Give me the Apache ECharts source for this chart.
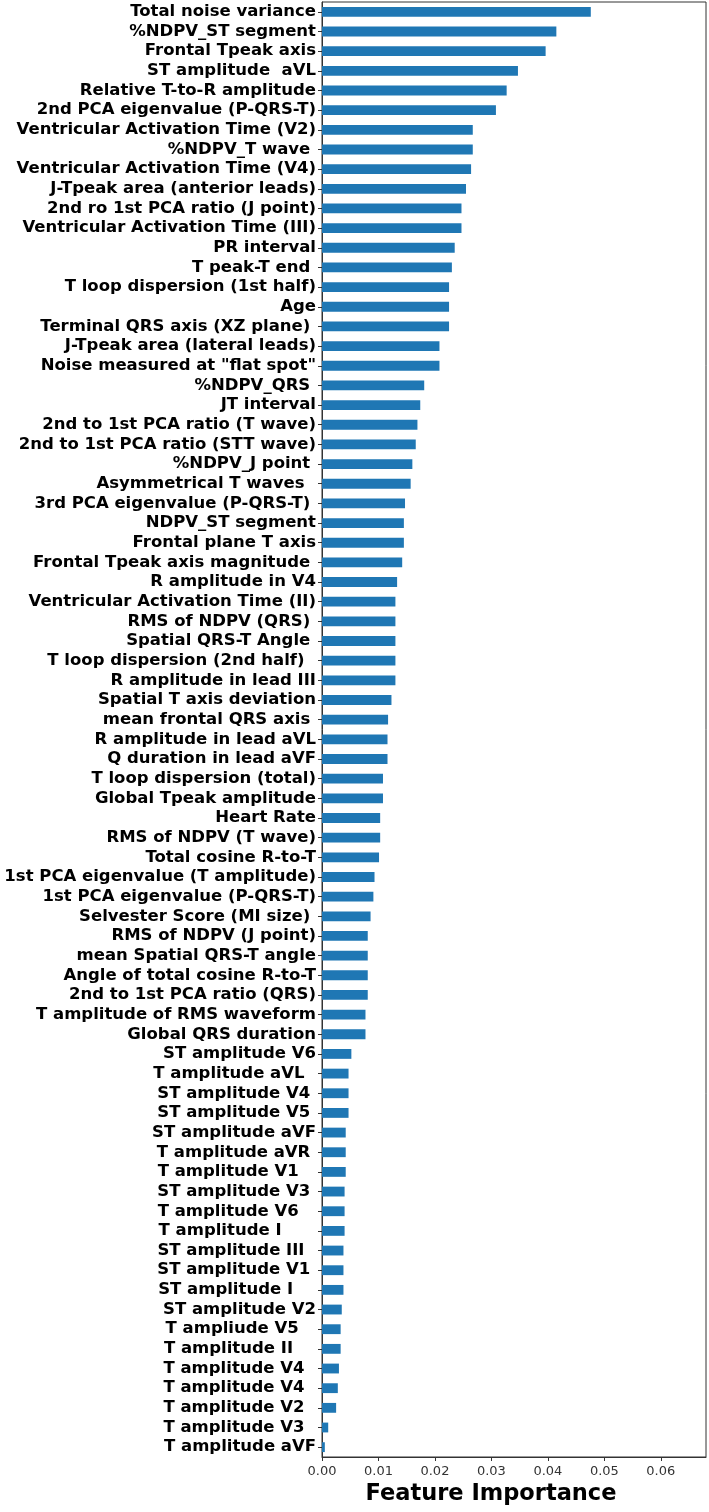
<!DOCTYPE html>
<html>
<head>
<meta charset="utf-8">
<script src="https://cdn.jsdelivr.net/npm/echarts@6/dist/echarts.min.js"></script>
<style>
html,body{margin:0;padding:0;background:#fff;}
#chart{width:709px;height:1512px;}
</style>
</head>
<body>
<div id="chart"></div>
<script>
const features = [
  "Total noise variance",
  "%NDPV_ST segment",
  "Frontal Tpeak axis",
  "ST amplitude  aVL",
  "Relative T-to-R amplitude",
  "2nd PCA eigenvalue (P-QRS-T)",
  "Ventricular Activation Time (V2)",
  "%NDPV_T wave ",
  "Ventricular Activation Time (V4)",
  "J-Tpeak area (anterior leads)",
  "2nd ro 1st PCA ratio (J point)",
  "Ventricular Activation Time (III)",
  "PR interval",
  "T peak-T end ",
  "T loop dispersion (1st half)",
  "Age",
  "Terminal QRS axis (XZ plane) ",
  "J-Tpeak area (lateral leads)",
  "Noise measured at \"flat spot\"",
  "%NDPV_QRS ",
  "JT interval",
  "2nd to 1st PCA ratio (T wave)",
  "2nd to 1st PCA ratio (STT wave)",
  "%NDPV_J point ",
  "Asymmetrical T waves  ",
  "3rd PCA eigenvalue (P-QRS-T) ",
  "NDPV_ST segment",
  "Frontal plane T axis",
  "Frontal Tpeak axis magnitude ",
  "R amplitude in V4",
  "Ventricular Activation Time (II)",
  "RMS of NDPV (QRS) ",
  "Spatial QRS-T Angle ",
  "T loop dispersion (2nd half)  ",
  "R amplitude in lead III",
  "Spatial T axis deviation",
  "mean frontal QRS axis ",
  "R amplitude in lead aVL",
  "Q duration in lead aVF",
  "T loop dispersion (total)",
  "Global Tpeak amplitude",
  "Heart Rate",
  "RMS of NDPV (T wave)",
  "Total cosine R-to-T",
  "1st PCA eigenvalue (T amplitude)",
  "1st PCA eigenvalue (P-QRS-T)",
  "Selvester Score (MI size) ",
  "RMS of NDPV (J point)",
  "mean Spatial QRS-T angle",
  "Angle of total cosine R-to-T",
  "2nd to 1st PCA ratio (QRS)",
  "T amplitude of RMS waveform",
  "Global QRS duration",
  "ST amplitude V6",
  "T amplitude aVL  ",
  "ST amplitude V4 ",
  "ST amplitude V5 ",
  "ST amplitude aVF",
  "T amplitude aVR ",
  "T amplitude V1   ",
  "ST amplitude V3 ",
  "T amplitude V6   ",
  "T amplitude I      ",
  "ST amplitude III  ",
  "ST amplitude V1 ",
  "ST amplitude I    ",
  "ST amplitude V2",
  "T ampliude V5   ",
  "T amplitude II    ",
  "T amplitude V4  ",
  "T amplitude V4  ",
  "T amplitude V2  ",
  "T amplitude V3  ",
  "T amplitude aVF"
];

const importance = [
  0.0476, 0.0415, 0.0396, 0.0347, 0.0327, 0.0308, 0.0267, 0.0267, 0.0264, 0.0255,
  0.0247, 0.0247, 0.0235, 0.0230, 0.0225, 0.0225, 0.0225, 0.0208, 0.0208, 0.0181,
  0.0174, 0.0169, 0.0166, 0.0160, 0.0157, 0.0147, 0.0145, 0.0145, 0.0142, 0.0133,
  0.0130, 0.0130, 0.0130, 0.0130, 0.0130, 0.0123, 0.0117, 0.0116, 0.0116, 0.0108,
  0.0108, 0.0103, 0.0103, 0.0101, 0.0093, 0.0091, 0.0086, 0.0081, 0.0081, 0.0081,
  0.0081, 0.0077, 0.0077, 0.0052, 0.0047, 0.0047, 0.0047, 0.0042, 0.0042, 0.0042,
  0.0040, 0.0040, 0.0040, 0.0038, 0.0038, 0.0038, 0.0035, 0.0033, 0.0033, 0.0030,
  0.0028, 0.0025, 0.0011, 0.0005
];

const xTicks = [0.00, 0.01, 0.02, 0.03, 0.04, 0.05, 0.06];
const xTitle = "Feature Importance";

const chart = echarts.init(document.getElementById('chart'), null, {renderer: 'canvas'});
chart.setOption({
  animation: false,
  backgroundColor: '#ffffff',
  grid: {
    left: 322, right: 3, top: 2, bottom: 55,
    show: true, borderColor: '#333', borderWidth: 1,
    containLabel: false,
    outerBoundsMode: 'none'
  },
  xAxis: {
    type: 'value',
    min: 0,
    max: 0.068,
    interval: 0.01,
    splitLine: {show: false},
    axisLine: {show: true, lineStyle: {color: '#333', width: 1}},
    axisTick: {show: true, length: 4, customValues: xTicks, lineStyle: {color: '#333'}},
    axisLabel: {
      show: true,
      customValues: xTicks,
      margin: 8,
      color: '#333',
      fontFamily: 'DejaVu Sans',
      fontSize: 13,
      formatter: v => v.toFixed(2)
    },
    name: xTitle,
    nameLocation: 'middle',
    nameGap: 25,
    nameTextStyle: {
      fontFamily: 'DejaVu Sans',
      fontWeight: 'bold',
      fontSize: 22.5,
      color: '#000',
      padding: [0, 46, 0, 0]
    }
  },
  yAxis: {
    type: 'category',
    data: features,
    inverse: true,
    axisLine: {show: true, lineStyle: {color: '#333', width: 1}},
    axisTick: {show: true, alignWithLabel: true, length: 4, lineStyle: {color: '#333'}},
    axisLabel: {
      interval: 0,
      margin: 6,
      color: '#000',
      fontFamily: 'DejaVu Sans',
      fontWeight: 'bold',
      fontSize: 16.5
    },
    splitLine: {show: false}
  },
  series: [{
    type: 'bar',
    data: importance,
    barWidth: '50%',
    itemStyle: {color: '#1f77b4'}
  }]
});
</script>
</body>
</html>
